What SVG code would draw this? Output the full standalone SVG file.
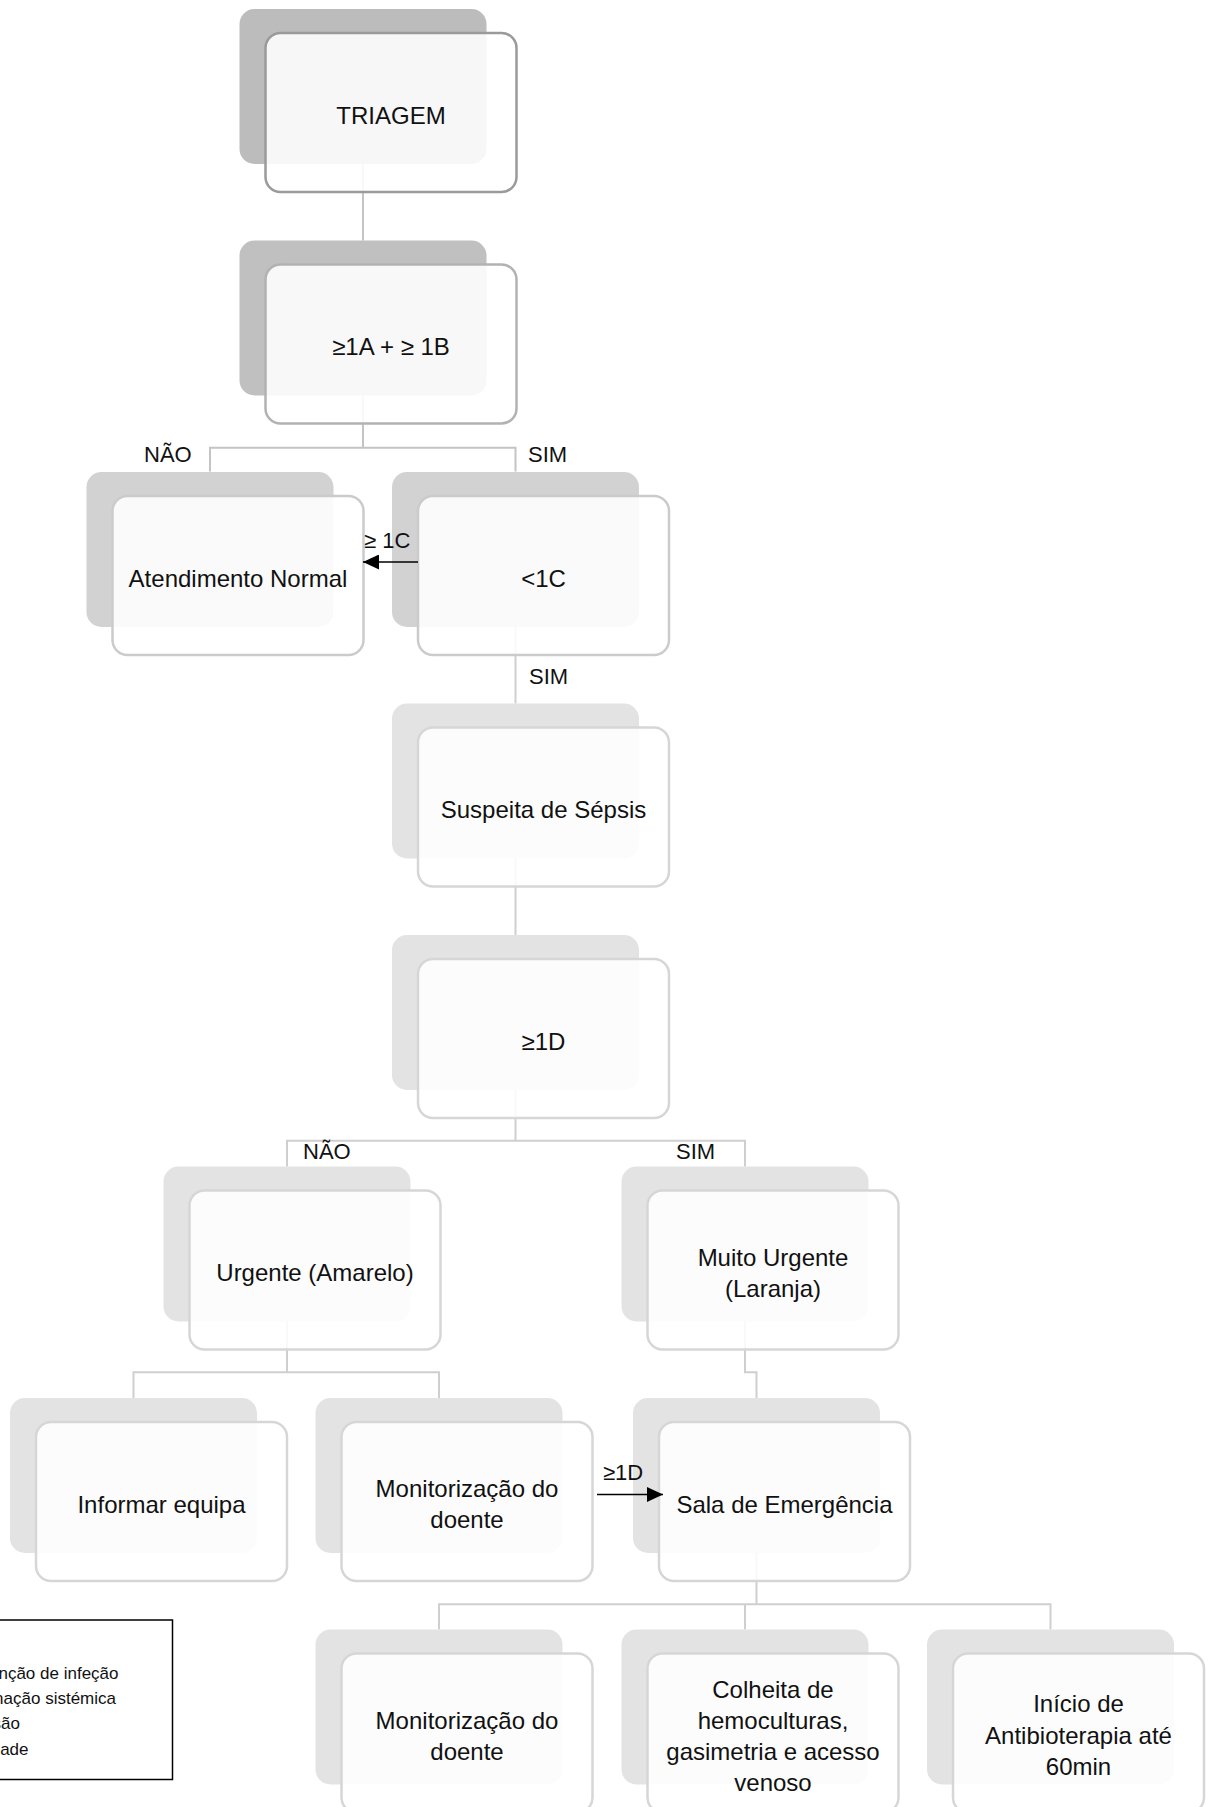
<svg xmlns="http://www.w3.org/2000/svg" width="1211" height="1807" viewBox="0 0 1211 1807">
<style>
  .sh{stroke:none}
  .s1{fill:#bcbcbc}.s2{fill:#c0c0c0}.s3{fill:#d2d2d2}.s4{fill:#e3e3e3}
  .fr{fill:#ffffff;fill-opacity:0.88;stroke-width:2.5}
  .f1{stroke:#9a9a9a}.f2{stroke:#b2b2b2}.f3{stroke:#cbcbcb}.f4{stroke:#d6d6d6}
  .t{font-family:"Liberation Sans",Arial,sans-serif;font-size:24px;fill:#111;text-anchor:middle}
  .lb{font-family:"Liberation Sans",Arial,sans-serif;font-size:22px;fill:#111}
  .lg{font-family:"Liberation Sans",Arial,sans-serif;font-size:17px;fill:#111;text-anchor:end}
  .cn{fill:none;stroke:#cfcfcf;stroke-width:2}
  .cd{stroke:#c4c4c4}
  .ar{fill:none;stroke:#000;stroke-width:1.6}
</style>
<defs>
  <marker id="ah" markerUnits="userSpaceOnUse" markerWidth="16" markerHeight="15" refX="16" refY="7.5" orient="auto">
    <path d="M0,0 L16,7.5 L0,15 Z" fill="#000"/>
  </marker>
</defs>

<g id="connectors">
  <path class="cn cd" d="M363,164 V240.5"/>
  <path class="cn cd" d="M363,395.5 V447.7"/>
  <path class="cn cd" d="M210,471.5 V447.7 H515.5 V471.5"/>
  <path class="cn" d="M515.5,627 V703.5"/>
  <path class="cn" d="M515.5,858.5 V935"/>
  <path class="cn" d="M515.5,1090 V1140.7"/>
  <path class="cn" d="M287,1166.5 V1140.7 H745 V1166.5"/>
  <path class="cn" d="M287,1321.5 V1372.3"/>
  <path class="cn" d="M133.5,1398 V1372.3 H439 V1398"/>
  <path class="cn" d="M745,1321.5 V1372.3 H756.5 V1398"/>
  <path class="cn" d="M756.5,1553 V1604.3"/>
  <path class="cn" d="M439,1629.5 V1604.3 H1050.5 V1629.5"/>
  <path class="cn" d="M745,1604.3 V1629.5"/>
</g>

<g id="node-triagem">
  <rect class="sh s1" x="239.5" y="9" width="247" height="155" rx="15"/>
  <rect class="fr f1" x="265.5" y="33" width="251" height="159" rx="15"/>
  <text class="t" x="391" y="124">TRIAGEM</text>
</g>
<g id="node-1a1b">
  <rect class="sh s2" x="239.5" y="240.5" width="247" height="155" rx="15"/>
  <rect class="fr f2" x="265.5" y="264.5" width="251" height="159" rx="15"/>
  <text class="t" x="391" y="355">≥1A + ≥ 1B</text>
</g>
<g id="node-atendimento">
  <rect class="sh s3" x="86.5" y="472" width="247" height="155" rx="15"/>
  <rect class="fr f3" x="112.5" y="496" width="251" height="159" rx="15"/>
  <text class="t" x="238" y="586.5">Atendimento Normal</text>
</g>
<g id="node-1c">
  <rect class="sh s3" x="392" y="472" width="247" height="155" rx="15"/>
  <rect class="fr f3" x="418" y="496" width="251" height="159" rx="15"/>
  <text class="t" x="543.5" y="586.5">&lt;1C</text>
</g>
<g id="node-suspeita">
  <rect class="sh s4" x="392" y="703.5" width="247" height="155" rx="15"/>
  <rect class="fr f4" x="418" y="727.5" width="251" height="159" rx="15"/>
  <text class="t" x="543.5" y="818">Suspeita de Sépsis</text>
</g>
<g id="node-1d">
  <rect class="sh s4" x="392" y="935" width="247" height="155" rx="15"/>
  <rect class="fr f4" x="418" y="959" width="251" height="159" rx="15"/>
  <text class="t" x="543.5" y="1049.5">≥1D</text>
</g>
<g id="node-urgente">
  <rect class="sh s4" x="163.5" y="1166.5" width="247" height="155" rx="15"/>
  <rect class="fr f4" x="189.5" y="1190.5" width="251" height="159" rx="15"/>
  <text class="t" x="315" y="1281">Urgente (Amarelo)</text>
</g>
<g id="node-muito-urgente">
  <rect class="sh s4" x="621.5" y="1166.5" width="247" height="155" rx="15"/>
  <rect class="fr f4" x="647.5" y="1190.5" width="251" height="159" rx="15"/>
  <text class="t" x="773" y="1265.5">Muito Urgente</text>
  <text class="t" x="773" y="1296.5">(Laranja)</text>
</g>
<g id="node-informar">
  <rect class="sh s4" x="10" y="1398" width="247" height="155" rx="15"/>
  <rect class="fr f4" x="36" y="1422" width="251" height="159" rx="15"/>
  <text class="t" x="161.5" y="1512.5">Informar equipa</text>
</g>
<g id="node-monitorizacao-1">
  <rect class="sh s4" x="315.5" y="1398" width="247" height="155" rx="15"/>
  <rect class="fr f4" x="341.5" y="1422" width="251" height="159" rx="15"/>
  <text class="t" x="467" y="1497">Monitorização do</text>
  <text class="t" x="467" y="1528">doente</text>
</g>
<g id="node-sala">
  <rect class="sh s4" x="633" y="1398" width="247" height="155" rx="15"/>
  <rect class="fr f4" x="659" y="1422" width="251" height="159" rx="15"/>
  <text class="t" x="784.5" y="1512.5">Sala de Emergência</text>
</g>
<g id="node-monitorizacao-2">
  <rect class="sh s4" x="315.5" y="1629.5" width="247" height="155" rx="15"/>
  <rect class="fr f4" x="341.5" y="1653.5" width="251" height="159" rx="15"/>
  <text class="t" x="467" y="1728.5">Monitorização do</text>
  <text class="t" x="467" y="1759.5">doente</text>
</g>
<g id="node-colheita">
  <rect class="sh s4" x="621.5" y="1629.5" width="247" height="155" rx="15"/>
  <rect class="fr f4" x="647.5" y="1653.5" width="251" height="159" rx="15"/>
  <text class="t" x="773" y="1697.5">Colheita de</text>
  <text class="t" x="773" y="1728.5">hemoculturas,</text>
  <text class="t" x="773" y="1759.5">gasimetria e acesso</text>
  <text class="t" x="773" y="1790.5">venoso</text>
</g>
<g id="node-inicio">
  <rect class="sh s4" x="927" y="1629.5" width="247" height="155" rx="15"/>
  <rect class="fr f4" x="953" y="1653.5" width="251" height="159" rx="15"/>
  <text class="t" x="1078.5" y="1712">Início de</text>
  <text class="t" x="1078.5" y="1743.5">Antibioterapia até</text>
  <text class="t" x="1078.5" y="1775">60min</text>
</g>

<g id="arrow-connectors">
  <line class="ar" x1="418" y1="562" x2="363" y2="562" marker-end="url(#ah)"/>
  <line class="ar" x1="597" y1="1494.5" x2="663" y2="1494.5" marker-end="url(#ah)"/>
</g>

<g id="edge-labels">
  <text class="lb" x="144" y="462">NÃO</text>
  <text class="lb" x="528" y="462">SIM</text>
  <text class="lb" x="364" y="548">≥ 1C</text>
  <text class="lb" x="529" y="684">SIM</text>
  <text class="lb" x="303" y="1159">NÃO</text>
  <text class="lb" x="676" y="1159">SIM</text>
  <text class="lb" x="603" y="1480">≥1D</text>
</g>

<g id="legend">
  <rect x="-10" y="1620" width="182.5" height="159.5" fill="#fff" stroke="#000" stroke-width="1.5"/>
  <text class="lg" x="118.5" y="1678.5">nção de infeção</text>
  <text class="lg" x="116" y="1703.5">nação sistémica</text>
  <text class="lg" x="20" y="1728.5">são</text>
  <text class="lg" x="28.5" y="1755">lade</text>
</g>
</svg>
